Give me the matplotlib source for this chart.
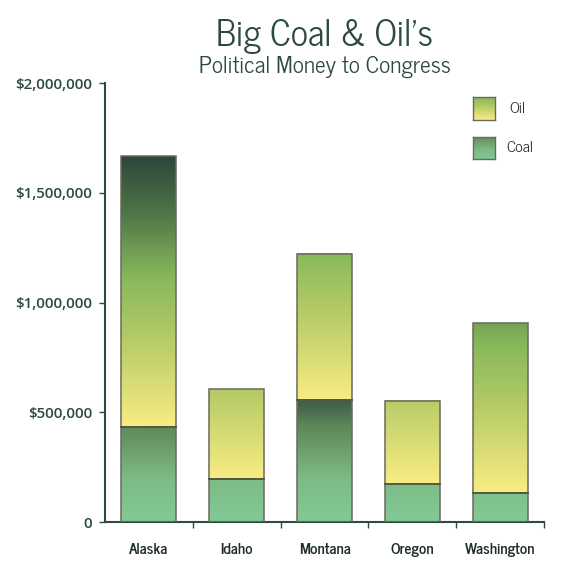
import matplotlib
matplotlib.use("Agg")
import matplotlib.pyplot as plt
import numpy as np
from matplotlib.colors import LinearSegmentedColormap
from matplotlib.ticker import FixedLocator

states = ["Alaska", "Idaho", "Montana", "Oregon", "Washington"]
coal = [435000, 196000, 555000, 172000, 131000]
oil = [1235000, 409000, 666000, 379000, 775000]
yticks = [0, 500000, 1000000, 1500000, 2000000]
ytick_labels = ["0", "$500,000", "$1,000,000", "$1,500,000", "$2,000,000"]

DARK = "#2c4a40"
oil_cmap = LinearSegmentedColormap.from_list("oil", [
    (0.0, "#f9ec83"), (0.33, "#b3ca66"), (0.54, "#89b95b"),
    (0.63, "#75a255"), (0.77, "#537848"), (1.0, "#2b4639")])
coal_cmap = LinearSegmentedColormap.from_list("coal", [
    (0.0, "#83c998"), (0.35, "#7dbb85"), (0.78, "#5f8858"),
    (0.9, "#4c6e4e"), (1.0, "#3d5b46")])
OIL_SCALE = 1240000
COAL_SCALE = 560000

plt.rcParams['font.family'] = ['News Cycle', 'Roboto Condensed', 'DejaVu Sans']

fig = plt.figure(figsize=(5.63, 5.71), dpi=100)
W, H = 563, 571
ax = fig.add_axes([105 / W, 49 / H, (544 - 105) / W, (522 - 83.3) / H])

x = np.arange(len(states))
width = 0.625

def grad_bar(xc, bottom, height, cmap, scale):
    x0, x1 = xc - width / 2, xc + width / 2
    data = np.linspace(0, height, 256).reshape(-1, 1) / scale
    ax.imshow(data, cmap=cmap, vmin=0, vmax=1, origin="lower", aspect="auto",
              extent=[x0, x1, bottom, bottom + height], interpolation="bilinear",
              zorder=2)
    ax.bar(xc, height, width, bottom=bottom, facecolor="none",
           edgecolor="#6a6a5e", linewidth=1.1, zorder=3)

for i in range(len(states)):
    grad_bar(x[i], 0, coal[i], coal_cmap, COAL_SCALE)
    grad_bar(x[i], coal[i], oil[i], oil_cmap, OIL_SCALE)
    ax.plot([x[i] - width / 2, x[i] + width / 2], [coal[i], coal[i]],
            color="#4f5a40", lw=1.3, zorder=4)

ax.set_xlim(-0.5, 4.5)
ax.set_ylim(0, 2000000)

for s in ["top", "right"]:
    ax.spines[s].set_visible(False)
for s in ["left", "bottom"]:
    ax.spines[s].set_color(DARK)
    ax.spines[s].set_linewidth(1.5)

ax.set_yticks(yticks)
ax.set_yticklabels(ytick_labels)
ax.tick_params(axis="y", length=4.5, width=1, color=DARK, pad=4.8,
               labelsize=10.9, labelcolor=DARK)
for t in ax.get_yticklabels():
    t.set_fontfamily(["Open Sans", "DejaVu Sans"])
    t.set_fontweight(600)

ax.set_xticks(x)
ax.set_xticklabels(states)
ax.tick_params(axis="x", which="major", length=0, pad=15, labelsize=11,
               labelcolor="#1f2f28")
for t in ax.get_xticklabels():
    t.set_fontweight("bold")
ax.xaxis.set_minor_locator(FixedLocator([0.5, 1.5, 2.5, 3.5, 4.5]))
ax.tick_params(axis="x", which="minor", length=4, width=1, color=DARK)

# Title
cx = (105 + 544) / 2 / W
fig.text(cx, 1 - 37 / H, "Big Coal & Oil\u2019s", ha="center", va="center",
         fontsize=26, color=DARK)
fig.text(cx, 1 - 67 / H, "Political Money to Congress", ha="center",
         va="center", fontsize=16.8, color=DARK)

# Legend
def legend_patch(y_top, cmap, lo, hi, label, tx):
    lax = fig.add_axes([472.7 / W, 1 - (y_top + 22.5) / H, 22.3 / W, 22.5 / H])
    data = np.linspace(lo, hi, 64).reshape(-1, 1)
    lax.imshow(data, cmap=cmap, vmin=0, vmax=1, origin="lower", aspect="auto",
               extent=[0, 1, 0, 1])
    lax.set_xticks([])
    lax.set_yticks([])
    for sp in lax.spines.values():
        sp.set_color("#6a6a5e")
        sp.set_linewidth(1.0)
    fig.text(tx / W, 1 - (y_top + 11.5) / H, label, ha="left", va="center",
             fontsize=11.5, color="#333333")

legend_patch(97.3, oil_cmap, 0.0, 0.55, "Oil", 509)
legend_patch(136.7, coal_cmap, 0.05, 0.78, "Coal", 506)

fig.savefig("out.png", dpi=100)
